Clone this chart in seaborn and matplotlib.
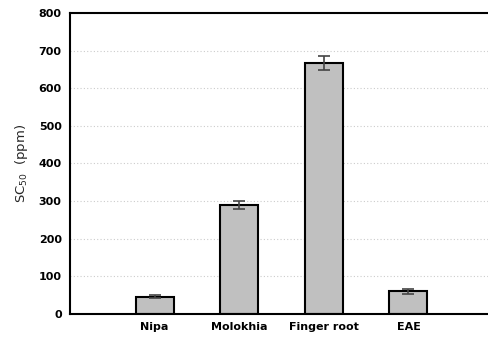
import matplotlib
matplotlib.use("Agg")
import matplotlib.pyplot as plt
import seaborn as sns
import pandas as pd

# SC50 values (ppm) with standard deviations
samples = ["Nipa", "Molokhia", "Finger root", "EAE"]
sc50 = [46, 290, 667, 60]
sd = [4, 10, 18, 6]
y_ticks = [0, 100, 200, 300, 400, 500, 600, 700, 800]

sns.set_theme(style="white")
plt.rcParams["font.family"] = ["DejaVu Sans"]

df = pd.DataFrame({"sample": samples, "sc50": sc50, "sd": sd})

fig = plt.figure(figsize=(4.88, 3.42), dpi=100)
ax = fig.add_axes([0.1434, 0.0819, 0.8566, 0.8801])

sns.barplot(data=df, x="sample", y="sc50", color="#c0c0c0", saturation=1,
            edgecolor="black", linewidth=1.5, width=0.45, errorbar=None, ax=ax)
ax.errorbar(range(len(samples)), df["sc50"], yerr=df["sd"], fmt="none",
            ecolor="#444444", elinewidth=1.2, capsize=4, capthick=1.2, zorder=5)

ax.set_xlim(-1.0, 3.94)
ax.set_ylim(0, 800)
ax.set_yticks(y_ticks)
ax.yaxis.grid(True, linestyle=(0, (1, 2)), color="#cccccc", linewidth=0.8)
ax.set_axisbelow(True)

ax.spines["right"].set_visible(False)
for side in ["left", "top", "bottom"]:
    ax.spines[side].set_color("black")
    ax.spines[side].set_linewidth(1.5)

ax.set_xlabel("")
ax.set_ylabel("SC$_{50}$  (ppm)", fontsize=9.5, labelpad=6)
ax.tick_params(axis="both", labelsize=8, length=0, pad=6, colors="black")
for lbl in ax.get_xticklabels() + ax.get_yticklabels():
    lbl.set_fontweight("bold")

fig.savefig("out.png", dpi=100)
